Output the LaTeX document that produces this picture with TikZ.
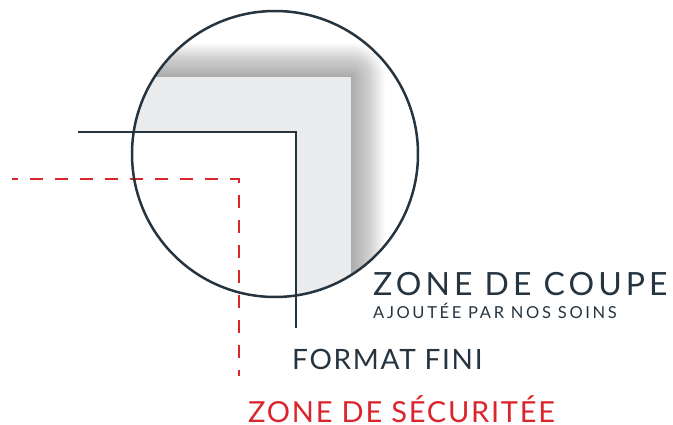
\documentclass[tikz,border=0pt]{standalone}
\usepackage{fontspec}
\setmainfont{Lato}
\usetikzlibrary{positioning}
\definecolor{ardoise}{RGB}{38,52,64}
\definecolor{rouge}{RGB}{218,37,45}
\definecolor{feuille}{RGB}{234,235,237}

\begin{document}
\begin{tikzpicture}[x=1pt,y=-1pt,
  coupe/.style={draw=ardoise,line width=2pt},
  secu/.style={draw=rouge,line width=2pt,dash pattern=on 13pt off 12pt,dash phase=7pt},
  legende/.style={anchor=base west,inner sep=0pt,text=ardoise}]

\useasboundingbox (0,0) rectangle (673,425);

% Loupe
\coordinate (C) at (275,154);
\begin{scope}
  \clip (C) circle (143pt);
  % ombre de la feuille
  \foreach \k in {0,...,34}
    \fill[black,opacity=0.011,rounded corners=\k pt] (0,400) -- (351+\k,400) -- (351+\k,77-\k) -- (0,77-\k) -- cycle;
  \fill[feuille] (0,400) rectangle (351,77);
  \fill[white] (0,400) rectangle (296,132);
\end{scope}

% Format fini
\coordinate (finA) at (78,132);
\coordinate (finB) at (296,132);
\coordinate (finC) at (296,328);
\draw[coupe] (finA) -- (finB) -- (finC);

% Zone de securite
\coordinate (secA) at (12,179);
\coordinate (secB) at (239,179);
\coordinate (secC) at (239,376);
\draw[secu] (secA) -- (secB) -- (secC);

\draw[ardoise,line width=2.5pt] (C) circle (143pt);

% Labels
\node[legende,font=\fontsize{32}{32}\selectfont\addfontfeature{LetterSpace=12.5}] (coupe) at (373,296) {ZONE DE COUPE};
\node[legende,font=\fontsize{16.5}{16.5}\selectfont\addfontfeature{LetterSpace=16}] (soins) at (373,319) {AJOUTÉE PAR NOS SOINS};
\node[legende,font=\fontsize{28}{28}\selectfont\addfontfeature{LetterSpace=6}] (fini) at (292,370) {FORMAT FINI};
\node[legende,text=rouge,font=\fontsize{29}{29}\selectfont\addfontfeature{LetterSpace=6}] (securite) at (248,422.5) {ZONE DE SÉCURITÉE};

\end{tikzpicture}
\end{document}
